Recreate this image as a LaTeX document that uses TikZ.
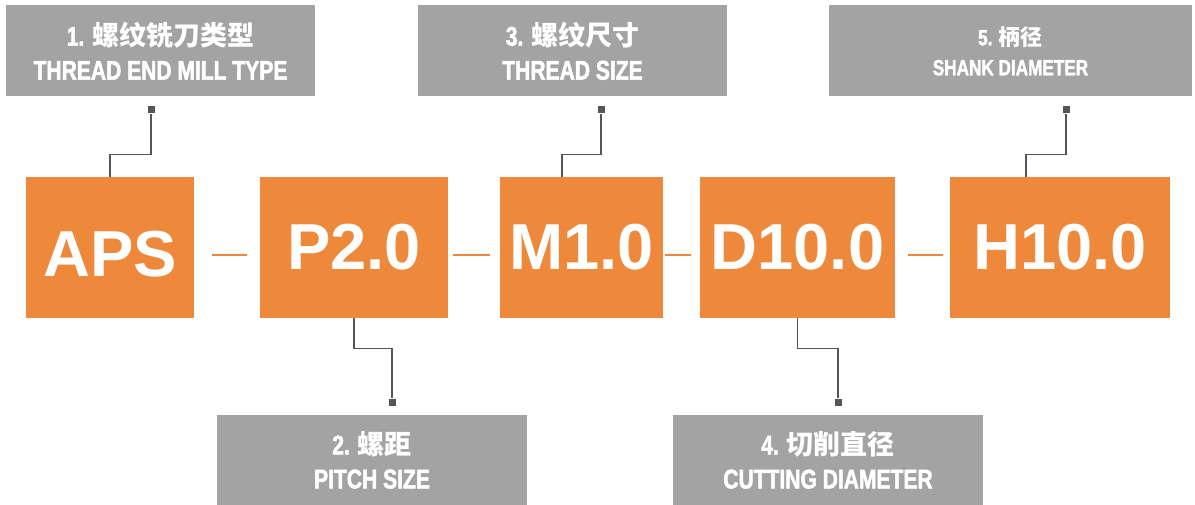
\documentclass[tikz,border=0pt]{standalone}
\usepackage{fontspec}
\setmainfont{Liberation Sans}
\newfontfamily\condfont[FakeStretch=0.78,FakeBold=1.8,BoldFont={Liberation Sans Bold}]{Liberation Sans Bold}
\newfontfamily\cjk{Noto Sans CJK SC}
\usetikzlibrary{calc}
\definecolor{codeorange}{RGB}{238,136,58}
\definecolor{labgray}{RGB}{163,163,163}
\definecolor{wiregray}{RGB}{85,85,85}

\begin{document}
\begin{tikzpicture}[x=1pt, y=1pt,
      code/.style={fill=codeorange, text=white, minimum height=141pt, inner sep=0pt,
        font=\bfseries\fontsize{65}{65}\selectfont},
      lab/.style={fill=labgray, text=white, align=center, minimum height=91pt, inner sep=0pt,
        font=\condfont\bfseries\fontsize{27}{34}\selectfont},
      pin/.style={fill=wiregray, minimum size=7pt, inner sep=0pt},
      wire/.style={draw=wiregray, line width=1.4pt},
      link/.style={draw=codeorange, line width=2.5pt},
    ]
    \useasboundingbox (0,0) rectangle (1195,-505);
    % code boxes
    \node[code, minimum width=168pt, text height=59pt, text depth=0pt] (aps) at (110,-247.5) {APS};
    \node[code, minimum width=188pt] (p2) at (354,-247.5) {P2.0};
    \node[code, minimum width=163pt] (m1) at (581.5,-247.5) {M1.0};
    \node[code, minimum width=195pt] (d10) at (797.5,-247.5) {D10.0};
    \node[code, minimum width=220pt] (h10) at (1060,-247.5) {H10.0};
    \draw[link, shorten <=18pt, shorten >=13pt] ([yshift=-7.5pt]aps.east) -- ([yshift=-7.5pt]p2.west);
    \draw[link, shorten <=5pt, shorten >=10pt] ([yshift=-7.5pt]p2.east) -- ([yshift=-7.5pt]m1.west);
    \draw[link, shorten <=2pt, shorten >=9pt] ([yshift=-7.5pt]m1.east) -- ([yshift=-7.5pt]d10.west);
    \draw[link, shorten <=13pt, shorten >=7pt] ([yshift=-7.5pt]d10.east) -- ([yshift=-7.5pt]h10.west);
    % labels
    \node[lab, minimum width=309pt] (lab1) at (160.5,-51) {1. {\cjk 螺纹铣刀类型}\\THREAD END MILL TYPE};
    \node[lab, minimum width=310pt] (lab2) at (372,-460) {2. {\cjk 螺距}\\PITCH SIZE};
    \node[lab, minimum width=309pt] (lab3) at (572.5,-51) {3. {\cjk 螺纹尺寸}\\THREAD SIZE};
    \node[lab, minimum width=310pt] (lab4) at (828,-460) {4. {\cjk 切削直径}\\CUTTING DIAMETER};
    \node[lab, minimum width=363pt, font=\condfont\bfseries\fontsize{22}{30}\selectfont] (lab5) at (1010.5,-51) {5. {\cjk 柄径}\\SHANK DIAMETER};
    \node[pin] (pin1) at (151,-110) {};
    \node[pin] (pin2) at (392,-402) {};
    \node[pin] (pin3) at (601,-110) {};
    \node[pin] (pin4) at (838,-402) {};
    \node[pin] (pin5) at (1066,-110) {};
    \draw[wire] (aps.north) -- ++(0,22) -| (pin1);
    \draw[wire] (p2.south) -- ++(0,-30) -| (pin2);
    \draw[wire] ($(m1.north west)+(62,0)$) -- ++(0,22) -| (pin3);
    \draw[wire] (d10.south) -- ++(0,-30) -| (pin4);
    \draw[wire] ($(h10.north west)+(76,0)$) -- ++(0,22) -| (pin5);
  \end{tikzpicture}
\end{document}
